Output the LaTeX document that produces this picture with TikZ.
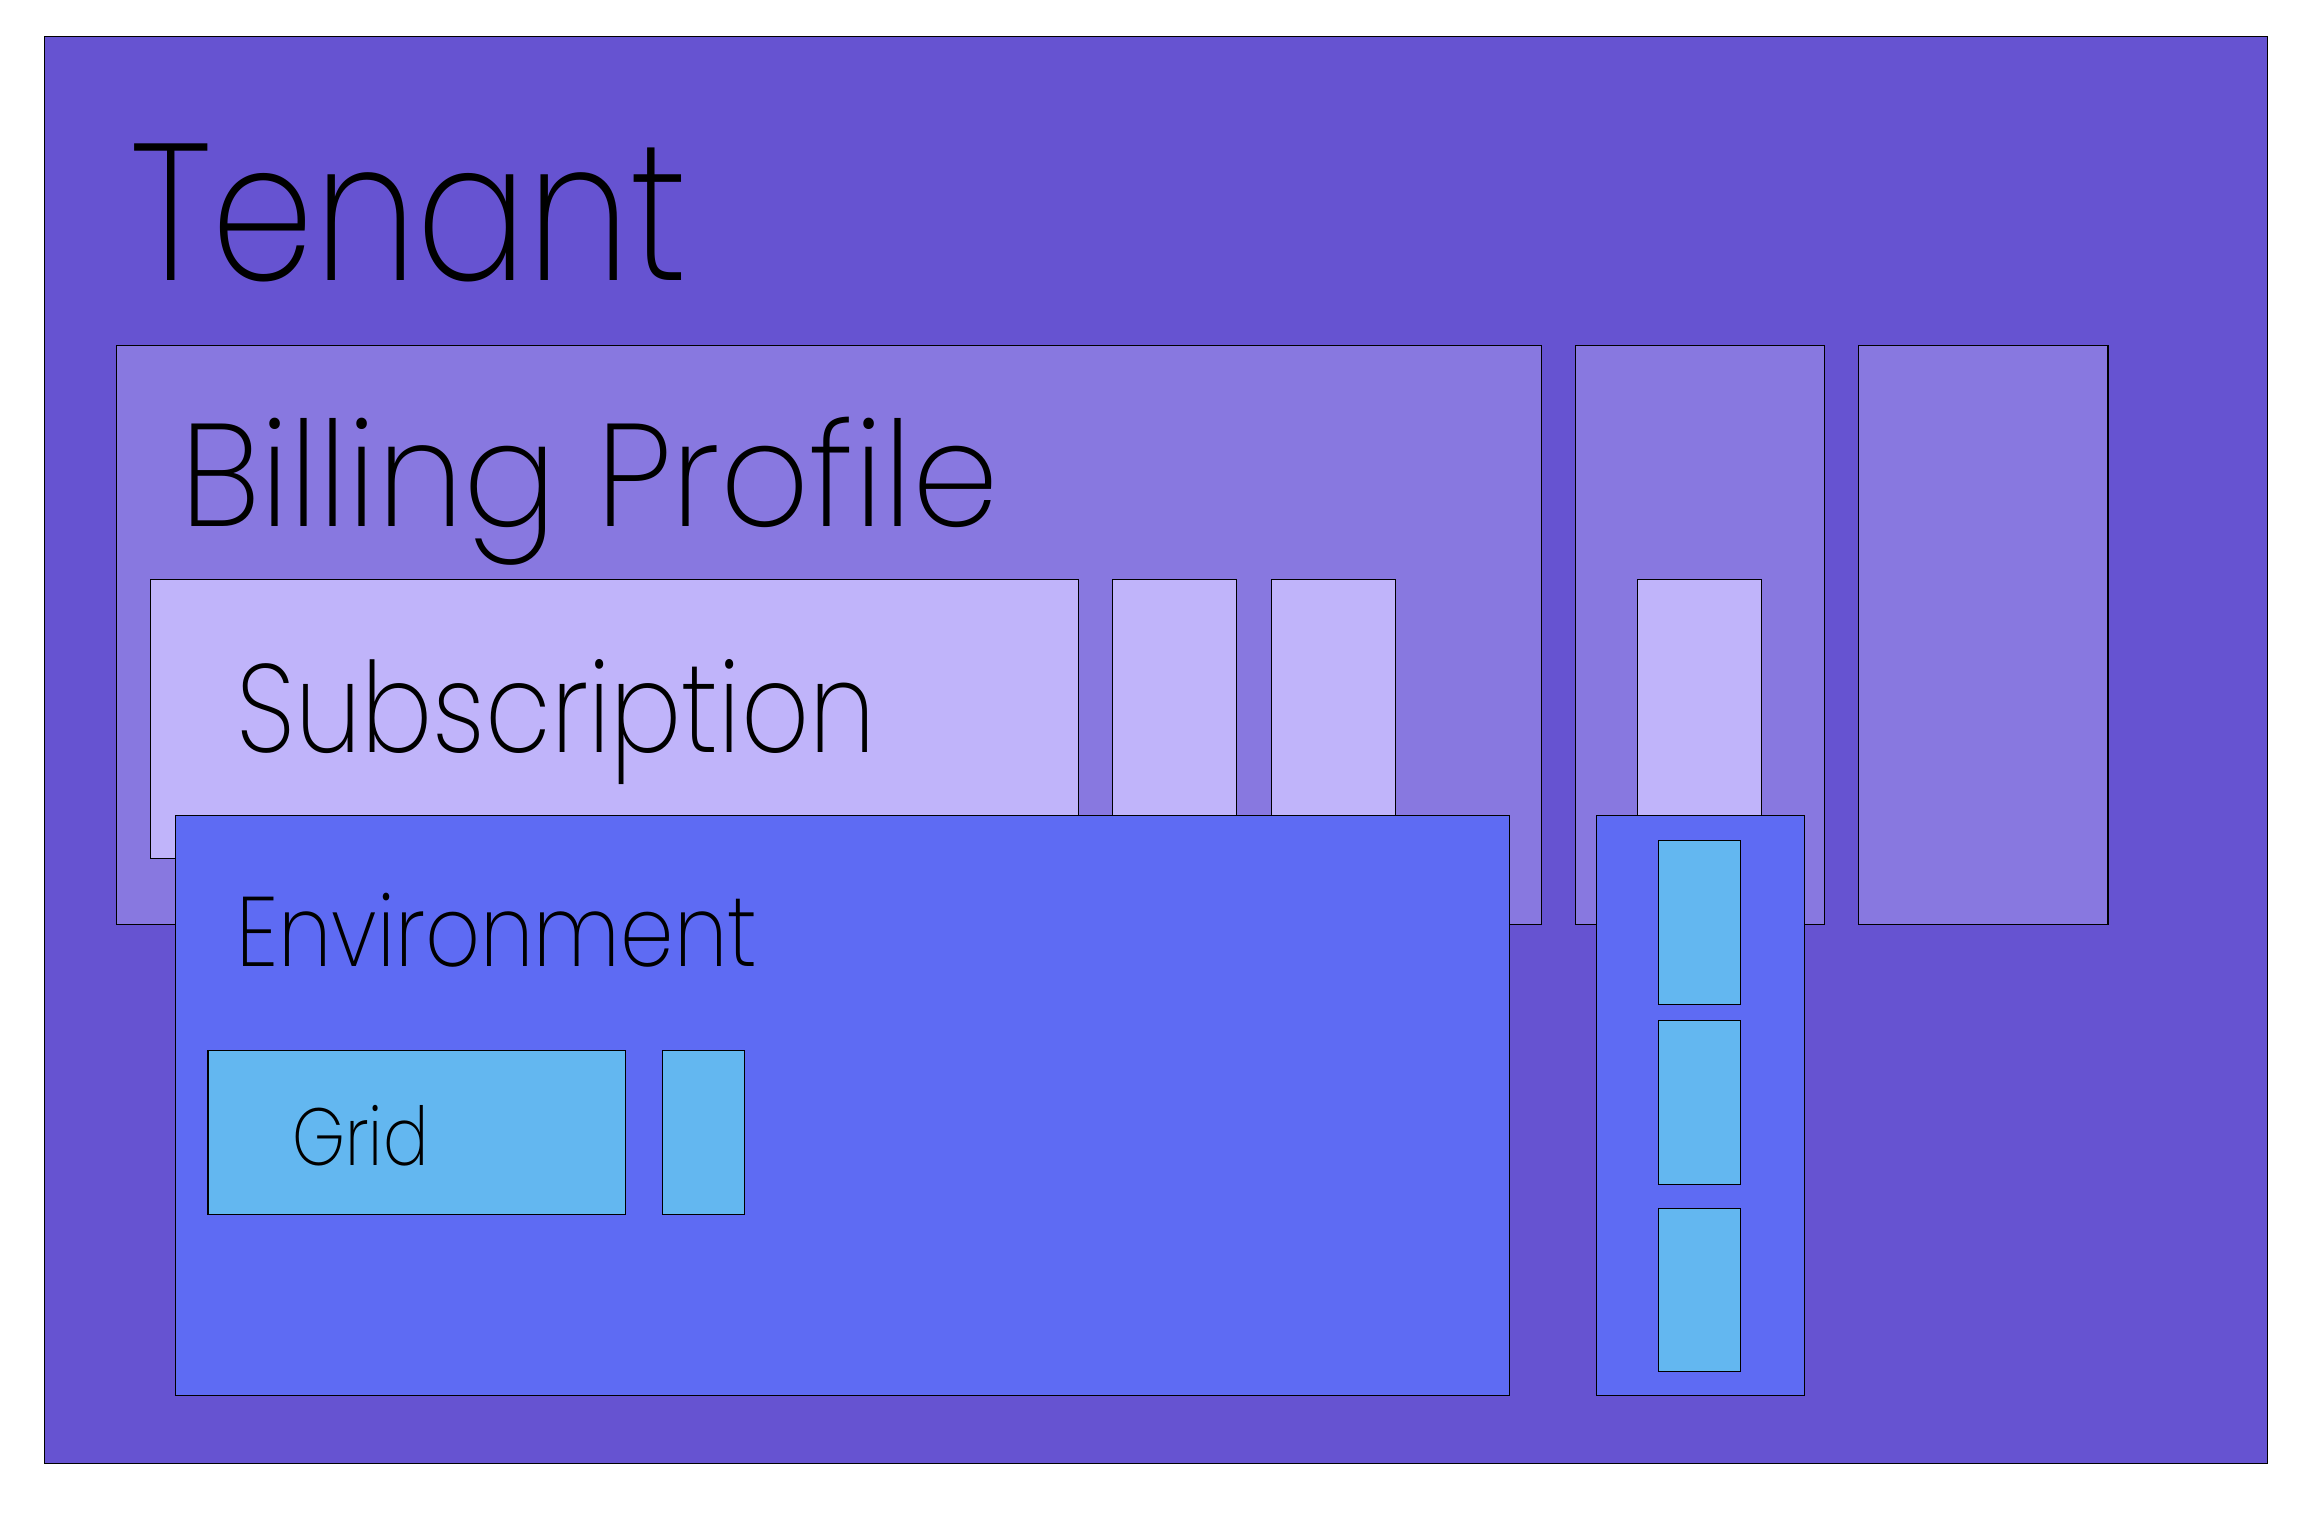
\documentclass[tikz,border=0pt]{standalone}
\usepackage{fontspec}
\setmainfont{Poppins ExtraLight}
\usetikzlibrary{fit}
\definecolor{tenantc}{HTML}{6653D1}
\definecolor{billc}{HTML}{8878E0}
\definecolor{subc}{HTML}{C0B4FA}
\definecolor{envc}{HTML}{5E6BF3}
\definecolor{gridc}{HTML}{63B7F0}
\tikzset{
  box/.style={draw=black,line width=0.7pt,inner sep=0pt,outer sep=0pt},
  lbl/.style={anchor=base west,inner sep=0pt,text=black},
}
\begin{document}
\begin{tikzpicture}[x=1pt,y=-1pt]
\useasboundingbox[fill=white] (0,0) rectangle (1568,1025.7);
% tenant
\node[box,fill=tenantc,fit={(30,25) (1537,992)}] (tenant) {};
\node[lbl,font=\fontsize{132}{132}\selectfont] (tenantlbl) at (88,190) {\scalebox{0.845}[1]{Tenant}};
% billing profiles
\node[box,fill=billc,fit={(79,234) (1045,627)}] (bill1) {};
\node[box,fill=billc,fit={(1068,234) (1237,627)}] (bill2) {};
\node[box,fill=billc,fit={(1260,234) (1429,627)}] (bill3) {};
\node[lbl,font=\fontsize{99}{99}\selectfont] (billlbl) at (122,357) {\scalebox{0.95}[1]{Billing Profile}};
% subscriptions
\node[box,fill=subc,fit={(102,393) (731,582)}] (sub1) {};
\node[box,fill=subc,fit={(754,393) (838,582)}] (sub2) {};
\node[box,fill=subc,fit={(862,393) (946,582)}] (sub3) {};
\node[box,fill=subc,fit={(1110,393) (1194,582)}] (sub4) {};
\node[lbl,font=\fontsize{85}{85}\selectfont] (sublbl) at (160,510) {\scalebox{0.846}[1]{Subscription}};
% environments
\node[box,fill=envc,fit={(119,553) (1023,946)}] (env1) {};
\node[box,fill=envc,fit={(1082,553) (1223,946)}] (env2) {};
\node[lbl,font=\fontsize{67}{67}\selectfont] (envlbl) at (160,655) {\scalebox{0.867}[1]{Environment}};
% grids
\node[box,fill=gridc,fit={(141,712) (424,823)}] (grid1) {};
\node[box,fill=gridc,fit={(449,712) (505,823)}] (grid2) {};
\node[box,fill=gridc,fit={(1124,570) (1180,681)}] (grid3) {};
\node[box,fill=gridc,fit={(1124,692) (1180,803)}] (grid4) {};
\node[box,fill=gridc,fit={(1124,819) (1180,930)}] (grid5) {};
\node[lbl,font=\fontsize{55}{55}\selectfont] (gridlbl) at (198,790) {\scalebox{0.83}[1]{Grid}};
\end{tikzpicture}
\end{document}
